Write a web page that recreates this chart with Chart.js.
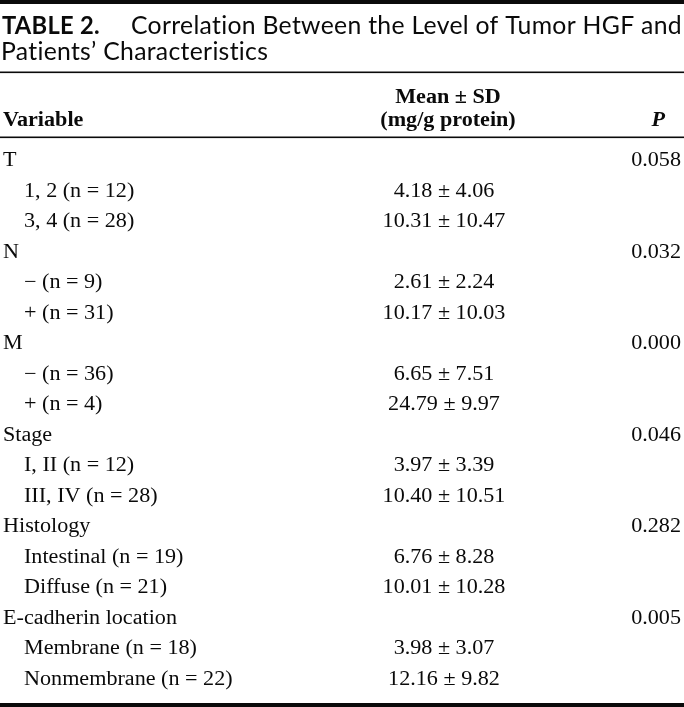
<!DOCTYPE html>
<html>
<head>
<meta charset="utf-8">
<script src="https://cdn.jsdelivr.net/npm/chart.js@4"></script>
<style>
  body { margin: 0; background: #fff; }
  canvas { display: block; }
</style>
</head>
<body>
<canvas id="table" width="684" height="707"></canvas>
<script>
// table content
const titleBold = 'TABLE 2.';
const titleLines = ['Correlation Between the Level of Tumor HGF and', 'Patients\u2019 Characteristics'];
const headers = ['Variable', 'Mean \u00b1 SD', '(mg/g protein)', 'P'];

const groups = ['T', 'N', 'M', 'Stage', 'Histology', 'E-cadherin location'];
const pValues = ['0.058', '0.032', '0.000', '0.046', '0.282', '0.005'];
const subgroups = [
    ['1, 2 (n = 12)', '3, 4 (n = 28)'],
    ['\u2212 (n = 9)', '+ (n = 31)'],
    ['\u2212 (n = 36)', '+ (n = 4)'],
    ['I, II (n = 12)', 'III, IV (n = 28)'],
    ['Intestinal (n = 19)', 'Diffuse (n = 21)'],
    ['Membrane (n = 18)', 'Nonmembrane (n = 22)']
];
const means = [[4.18, 10.31], [2.61, 10.17], [6.65, 24.79], [3.97, 10.40], [6.76, 10.01], [3.98, 12.16]];
const sds = [[4.06, 10.47], [2.24, 10.03], [7.51, 9.97], [3.39, 10.51], [8.28, 10.28], [3.07, 9.82]];

// column anchors on the x scale (0..684)
const colX = { label: 3, mean: 444, p: 681 };
const subIndent = 21;
const serifX = 1.08;

// flatten into rows
let rows = [];
groups.forEach((g, i) => {
    rows.push({ label: g, mean: '', p: pValues[i], sub: false });
    subgroups[i].forEach((s, j) => {
        rows.push({
            label: s,
            mean: means[i][j].toFixed(2) + ' \u00b1 ' + sds[i][j].toFixed(2),
            p: '',
            sub: true
        });
    });
});

const drawText = (ctx, text, x, y, align, sx) => {
    ctx.save();
    ctx.translate(x, y);
    ctx.scale(sx, 1);
    ctx.textAlign = align;
    ctx.fillText(text, 0, 0);
    ctx.restore();
}

const rule = (ctx, y, w) => {
    ctx.fillStyle = '#0a0a0a';
    ctx.fillRect(0, y, 684, w);
}

const tablePlugin = {
    id: 'tableText',
    afterDatasetsDraw(chart) {
        const ctx = chart.ctx;
        const xs = chart.scales.x;
        ctx.save();
        ctx.textBaseline = 'alphabetic';

        // rules
        rule(ctx, 0, 4);
        rule(ctx, 71.5, 1.6);
        rule(ctx, 136.5, 1.6);
        rule(ctx, 703, 4);
        ctx.fillStyle = '#0a0a0a';

        // title (small letter spacing keeps Lato from using ligatures)
        ctx.letterSpacing = '0.3px';
        ctx.font = 'bold 25px Lato';
        let wb = ctx.measureText(titleBold).width;
        drawText(ctx, titleBold, 2, 33.5, 'left', 98 / wb);
        ctx.font = '25px Lato';
        let w1 = ctx.measureText(titleLines[0]).width;
        let tsx = (682 - 131) / w1;
        drawText(ctx, titleLines[0], 131, 33.5, 'left', tsx);
        drawText(ctx, titleLines[1], 1, 59.5, 'left', tsx);
        ctx.letterSpacing = '0px';

        // header
        ctx.font = 'bold 20.5px "Liberation Serif"';
        drawText(ctx, headers[0], xs.getPixelForValue(colX.label), 126, 'left', serifX);
        drawText(ctx, headers[1], xs.getPixelForValue(448), 103, 'center', serifX);
        drawText(ctx, headers[2], xs.getPixelForValue(448), 126, 'center', serifX);
        ctx.font = 'italic bold 20.5px "Liberation Serif"';
        drawText(ctx, headers[3], xs.getPixelForValue(665), 126, 'right', serifX);

        // body cells, placed by the dataset points
        ctx.font = '20.5px "Liberation Serif"';
        chart.data.datasets.forEach((ds, di) => {
            const meta = chart.getDatasetMeta(di);
            meta.data.forEach((pt, i) => {
                const row = rows[i];
                const y = pt.y + 6;
                if (ds.key === 'label') {
                    drawText(ctx, row.label, pt.x + (row.sub ? subIndent : 0), y, 'left', serifX);
                } else if (ds.key === 'mean') {
                    drawText(ctx, row.mean, pt.x, y, 'center', serifX);
                } else {
                    drawText(ctx, row.p, pt.x, y, 'right', serifX);
                }
            });
        });
        ctx.restore();
    }
}

const makeDataset = (key) => ({
    key: key,
    data: rows.map((r, i) => ({ x: colX[key], y: i })),
    pointRadius: 0,
    showLine: false
});

new Chart(document.getElementById('table').getContext('2d'), {
    type: 'scatter',
    data: {
        datasets: [makeDataset('label'), makeDataset('mean'), makeDataset('p')]
    },
    options: {
        responsive: false,
        animation: false,
        layout: { padding: { top: 144.75, bottom: 13.25, left: 0, right: 0 } },
        plugins: { legend: { display: false }, tooltip: { enabled: false } },
        scales: {
            x: { type: 'linear', display: false, min: 0, max: 684 },
            y: { type: 'linear', display: false, reverse: true, min: -0.5, max: rows.length - 0.5 }
        }
    },
    plugins: [tablePlugin]
});
</script>
</body>
</html>
